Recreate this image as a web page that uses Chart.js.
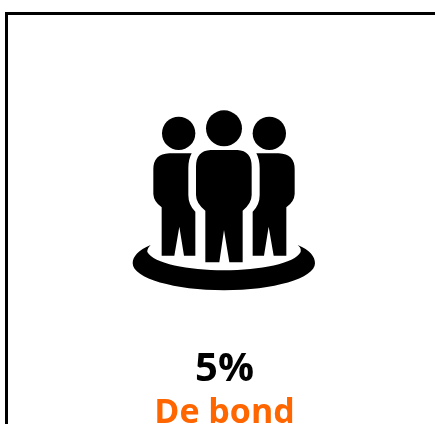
<!DOCTYPE html>
<html>
<head>
<meta charset="utf-8">
<script src="https://cdn.jsdelivr.net/npm/chart.js@4"></script>
<style>
  html, body { margin: 0; padding: 0; background: #fff; }
  canvas { display: block; }
</style>
</head>
<body>
<canvas id="chart" width="435" height="446"></canvas>
<script>
const categories = ['De bond'];
const shares = [5];

const orange = '#ff6600';

// left person, in icon units (the right one is its mirror image)
function sidePerson(ctx) {
  ctx.beginPath();
  ctx.arc(176, 100, 50, 0, Math.PI * 2);
  ctx.fill();
  ctx.beginPath();
  ctx.moveTo(215, 160);
  ctx.lineTo(148, 160);
  ctx.quadraticCurveTo(100, 162, 100, 208);
  ctx.lineTo(100, 282);
  ctx.quadraticCurveTo(101, 305, 125, 322);
  ctx.lineTo(125, 467);
  ctx.lineTo(163, 467);
  ctx.lineTo(178, 380);
  ctx.lineTo(192, 467);
  ctx.lineTo(226, 467);
  ctx.lineTo(226, 335);
  ctx.quadraticCurveTo(205, 315, 205, 285);
  ctx.lineTo(205, 205);
  ctx.quadraticCurveTo(205, 178, 215, 160);
  ctx.closePath();
  ctx.fill();
}

function middlePerson(ctx) {
  ctx.beginPath();
  ctx.arc(312, 85, 54, 0, Math.PI * 2);
  ctx.fill();
  ctx.beginPath();
  ctx.moveTo(272, 150);
  ctx.lineTo(352, 150);
  ctx.quadraticCurveTo(395, 152, 395, 200);
  ctx.lineTo(395, 285);
  ctx.quadraticCurveTo(395, 310, 368, 332);
  ctx.lineTo(368, 487);
  ctx.lineTo(328, 487);
  ctx.lineTo(312, 390);
  ctx.lineTo(298, 487);
  ctx.lineTo(256, 487);
  ctx.lineTo(256, 332);
  ctx.quadraticCurveTo(228, 310, 228, 285);
  ctx.lineTo(228, 200);
  ctx.quadraticCurveTo(228, 152, 272, 150);
  ctx.closePath();
  ctx.fill();
}

function ground(ctx) {
  ctx.beginPath();
  ctx.moveTo(92, 435);
  ctx.bezierCurveTo(55, 450, 38, 470, 38, 490);
  ctx.bezierCurveTo(38, 535, 165, 571, 312, 571);
  ctx.bezierCurveTo(460, 571, 585, 535, 585, 490);
  ctx.bezierCurveTo(585, 470, 570, 450, 533, 435);
  ctx.bezierCurveTo(545, 445, 542, 452, 542, 456);
  ctx.bezierCurveTo(525, 490, 420, 511, 312, 511);
  ctx.bezierCurveTo(205, 511, 100, 490, 82, 456);
  ctx.bezierCurveTo(82, 452, 82, 445, 92, 435);
  ctx.closePath();
  ctx.fill();
}

const infographic = {
  id: 'infographic',
  afterDraw(chart) {
    const ctx = chart.ctx;
    const cx = chart.scales.x.getPixelForValue(0) + 4;

    ctx.save();
    ctx.fillStyle = '#000';
    ctx.translate(120, 100);
    ctx.scale(1 / 3, 1 / 3);
    sidePerson(ctx);
    middlePerson(ctx);
    ground(ctx);
    ctx.translate(624, 0);
    ctx.scale(-1, 1);
    sidePerson(ctx);
    ctx.restore();

    ctx.save();
    ctx.textAlign = 'center';
    ctx.textBaseline = 'alphabetic';
    ctx.fillStyle = '#000';
    ctx.font = 'bold 40px "Open Sans"';
    ctx.fillText(shares[0] + '%', cx, 381);
    ctx.fillStyle = orange;
    ctx.font = 'bold 34px "Open Sans"';
    ctx.fillText(categories[0], cx, 423);
    ctx.restore();
  }
};

new Chart(document.getElementById('chart').getContext('2d'), {
  type: 'bar',
  data: {
    labels: categories,
    datasets: [{ data: shares, backgroundColor: 'transparent' }]
  },
  options: {
    responsive: false,
    animation: false,
    layout: { padding: { left: 6, top: 13, right: 0, bottom: 23 } },
    plugins: { legend: { display: false }, tooltip: { enabled: false } },
    scales: {
      x: {
        position: 'top',
        grid: { display: false, drawTicks: false },
        ticks: { display: false },
        border: { display: true, color: '#000', width: 3 }
      },
      y: {
        min: 0,
        max: 100,
        grid: { display: false, drawTicks: false },
        ticks: { display: false },
        border: { display: true, color: '#000', width: 3 }
      }
    }
  },
  plugins: [infographic]
});
</script>
</body>
</html>
